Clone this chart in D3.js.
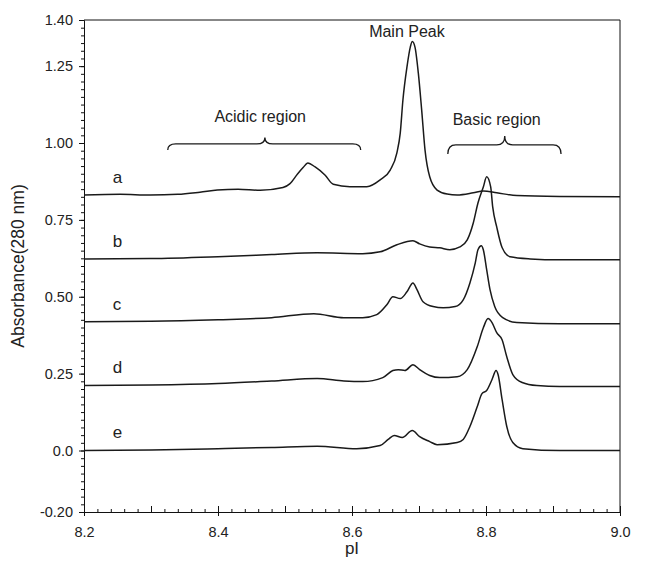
<!DOCTYPE html>
<html>
<head>
<meta charset="utf-8">
<script src="https://cdn.jsdelivr.net/npm/d3@7"></script>
<style>
    body { margin: 0; background: #fff; }
    text { font-family: "Liberation Sans", Arial, sans-serif; fill: #222; }
</style>
</head>
<body>
<div class="ief-chart"></div>
<script>
const width = 649, height = 562;
const margin = {top: 20, right: 29, bottom: 50, left: 84};

// pI values and absorbance, one list per trace
const trace_a = [
    [8.200, 0.831], [8.254, 0.833], [8.299, 0.831], [8.340, 0.833], [8.373, 0.840],
    [8.399, 0.847], [8.430, 0.850], [8.463, 0.846], [8.497, 0.855], [8.507, 0.867],
    [8.519, 0.900], [8.527, 0.920], [8.534, 0.935], [8.545, 0.922], [8.560, 0.895],
    [8.572, 0.866], [8.597, 0.858], [8.622, 0.858], [8.642, 0.880], [8.657, 0.912],
    [8.667, 0.968], [8.672, 1.032], [8.676, 1.140], [8.682, 1.247], [8.687, 1.312],
    [8.690, 1.330], [8.694, 1.312], [8.699, 1.227], [8.704, 1.107], [8.709, 0.977],
    [8.716, 0.890], [8.727, 0.847], [8.742, 0.834], [8.757, 0.831], [8.781, 0.838],
    [8.796, 0.844], [8.816, 0.838], [8.846, 0.829], [8.910, 0.826], [9.000, 0.825]
];
const trace_b = [
    [8.200, 0.623], [8.299, 0.624], [8.400, 0.630], [8.480, 0.637], [8.548, 0.643],
    [8.616, 0.640], [8.642, 0.646], [8.667, 0.669], [8.691, 0.682], [8.701, 0.672],
    [8.716, 0.662], [8.731, 0.659], [8.746, 0.653], [8.761, 0.662], [8.772, 0.685],
    [8.781, 0.740], [8.788, 0.805], [8.796, 0.857], [8.801, 0.890], [8.807, 0.857],
    [8.810, 0.792], [8.816, 0.727], [8.824, 0.660], [8.836, 0.630], [8.866, 0.623],
    [8.910, 0.620], [9.000, 0.620]
];
const trace_c = [
    [8.200, 0.419], [8.300, 0.420], [8.400, 0.425], [8.480, 0.432], [8.543, 0.445],
    [8.588, 0.432], [8.616, 0.432], [8.637, 0.442], [8.652, 0.474], [8.661, 0.500],
    [8.672, 0.494], [8.682, 0.516], [8.691, 0.545], [8.697, 0.523], [8.706, 0.484],
    [8.721, 0.468], [8.736, 0.464], [8.754, 0.468], [8.766, 0.490], [8.776, 0.545],
    [8.784, 0.610], [8.788, 0.653], [8.793, 0.666], [8.796, 0.653], [8.801, 0.588],
    [8.806, 0.523], [8.813, 0.468], [8.825, 0.432], [8.846, 0.416], [8.910, 0.412],
    [9.000, 0.412]
];
const trace_d = [
    [8.200, 0.211], [8.300, 0.213], [8.400, 0.218], [8.480, 0.226], [8.548, 0.234],
    [8.588, 0.226], [8.616, 0.224], [8.646, 0.237], [8.661, 0.260], [8.669, 0.263],
    [8.679, 0.260], [8.691, 0.279], [8.701, 0.263], [8.716, 0.244], [8.731, 0.237],
    [8.757, 0.240], [8.772, 0.263], [8.787, 0.338], [8.796, 0.399], [8.803, 0.429],
    [8.809, 0.416], [8.816, 0.383], [8.824, 0.360], [8.831, 0.305], [8.840, 0.247],
    [8.854, 0.221], [8.876, 0.211], [8.910, 0.208], [9.000, 0.208]
];
const trace_e = [
    [8.200, 0.000], [8.300, 0.002], [8.400, 0.006], [8.480, 0.010], [8.548, 0.014],
    [8.607, 0.006], [8.642, 0.016], [8.654, 0.036], [8.663, 0.049], [8.675, 0.042],
    [8.690, 0.065], [8.701, 0.045], [8.716, 0.029], [8.727, 0.019], [8.757, 0.026],
    [8.766, 0.036], [8.776, 0.078], [8.787, 0.143], [8.794, 0.185], [8.801, 0.195],
    [8.809, 0.231], [8.815, 0.260], [8.818, 0.247], [8.824, 0.166], [8.831, 0.078],
    [8.840, 0.026], [8.855, 0.006], [8.910, 0.000], [9.000, 0.000]
];
const traces = [trace_a, trace_b, trace_c, trace_d, trace_e];
const traceNames = ['a', 'b', 'c', 'd', 'e'];
const traceLabelY = [0.870, 0.662, 0.458, 0.253, 0.042];

const xTickValues = [8.2, 8.4, 8.6, 8.8, 9.0];
const xTickLabels = ['8.2', '8.4', '8.6', '8.8', '9.0'];
const yTickValues = [1.40, 1.25, 1.00, 0.75, 0.50, 0.25, 0.0, -0.20];
const yTickLabels = ['1.40', '1.25', '1.00', '0.75', '0.50', '0.25', '0.0', '-0.20'];

function draw_IEF() {
    let svg = d3.select('.ief-chart')
        .append('svg')
        .attr('width', width)
        .attr('height', height);
    let x_scale = d3.scaleLinear()
        .domain([8.2, 9.0])
        .range([margin.left, width - margin.right]);
    let y_scale = d3.scaleLinear()
        .domain([-0.20, 1.40])
        .range([height - margin.bottom, margin.top]);

    // minor ticks
    let xMinor = d3.range(8.2, 9.0001, 0.02);
    let xMid = d3.range(8.2, 9.0001, 0.1);
    let yMinor = d3.range(-0.20, 1.4001, 0.025);
    svg.append('g')
        .attr('transform', `translate(0, ${height - margin.bottom})`)
        .call(d3.axisBottom(x_scale).tickValues(xMinor).tickSize(-3).tickFormat(''))
        .call(g => g.select('.domain').remove());
    svg.append('g')
        .attr('transform', `translate(0, ${height - margin.bottom})`)
        .call(d3.axisBottom(x_scale).tickValues(xMid).tickSize(-6).tickFormat(''))
        .call(g => g.select('.domain').remove());
    svg.append('g')
        .attr('transform', `translate(${margin.left}, 0)`)
        .call(d3.axisLeft(y_scale).tickValues(yMinor).tickSize(3).tickFormat(''))
        .call(g => g.select('.domain').remove());

    // main axes
    let x_Axis = d3.axisBottom(x_scale)
        .tickValues(xTickValues)
        .tickSize(4)
        .tickPadding(6)
        .tickFormat((d, i) => xTickLabels[i]);
    let y_Axis = d3.axisLeft(y_scale)
        .tickValues(yTickValues)
        .tickSize(5)
        .tickPadding(6)
        .tickFormat((d, i) => yTickLabels[i]);
    svg.append('g')
        .attr('transform', `translate(0, ${height - margin.bottom})`)
        .call(x_Axis)
        .call(g => g.selectAll('text').attr('font-size', 14.5).attr('dy', '1em'));
    svg.append('g')
        .attr('transform', `translate(${margin.left}, 0)`)
        .call(y_Axis)
        .call(g => g.selectAll('text').attr('font-size', 14.5));
    svg.selectAll('.tick line, .domain').attr('stroke', '#111');

    // top and right frame
    svg.append('path')
        .attr('d', `M${x_scale(8.2)},${y_scale(1.4)}H${x_scale(9.0)}V${y_scale(-0.2)}`)
        .attr('fill', 'none')
        .attr('stroke', '#111');

    let line = d3.line()
        .x(d => x_scale(d[0]))
        .y(d => y_scale(d[1]))
        .curve(d3.curveMonotoneX);
    svg.append('g')
        .selectAll('path')
        .data(traces)
        .join('path')
        .attr('d', line)
        .attr('fill', 'none')
        .attr('stroke', '#1a1a1a')
        .attr('stroke-width', 1.5);

    svg.append('g')
        .selectAll('text')
        .data(traceNames)
        .join('text')
        .attr('x', x_scale(8.243))
        .attr('y', (d, i) => y_scale(traceLabelY[i]))
        .attr('font-size', 17)
        .text(d => d);

    // braces over the acidic and basic regions
    function brace(x0, x1, xm, yEnd, yFlat, yTip) {
        let a = x_scale(x0), b = x_scale(x1), m = x_scale(xm);
        let e = y_scale(yEnd), f = y_scale(yFlat), t = y_scale(yTip);
        let r = 8;
        return `M${a},${e}Q${a},${f} ${a + r},${f}L${m - r},${f}Q${m},${f} ${m},${t}` +
            `Q${m},${f} ${m + r},${f}L${b - r},${f}Q${b},${f} ${b},${e}`;
    }
    svg.append('path')
        .attr('d', brace(8.325, 8.613, 8.470, 0.977, 0.997, 1.018))
        .attr('fill', 'none').attr('stroke', '#1a1a1a').attr('stroke-width', 1.3);
    svg.append('path')
        .attr('d', brace(8.743, 8.912, 8.828, 0.964, 0.994, 1.023))
        .attr('fill', 'none').attr('stroke', '#1a1a1a').attr('stroke-width', 1.3);

    svg.append('text')
        .attr('x', x_scale(8.463)).attr('y', y_scale(1.068))
        .attr('text-anchor', 'middle').attr('font-size', 16)
        .text('Acidic region');
    svg.append('text')
        .attr('x', x_scale(8.816)).attr('y', y_scale(1.058))
        .attr('text-anchor', 'middle').attr('font-size', 16)
        .text('Basic region');
    svg.append('text')
        .attr('x', x_scale(8.682)).attr('y', y_scale(1.344))
        .attr('text-anchor', 'middle').attr('font-size', 16)
        .text('Main Peak');

    svg.append('text')
        .attr('x', (margin.left + width - margin.right) / 2)
        .attr('y', 554)
        .attr('text-anchor', 'middle')
        .attr('font-size', 17)
        .text('pI');
    svg.append('text')
        .attr('transform', `translate(24, ${(margin.top + height - margin.bottom) / 2}) rotate(-90)`)
        .attr('text-anchor', 'middle')
        .attr('font-size', 17.5)
        .text('Absorbance(280 nm)');
}
draw_IEF();
</script>
</body>
</html>
